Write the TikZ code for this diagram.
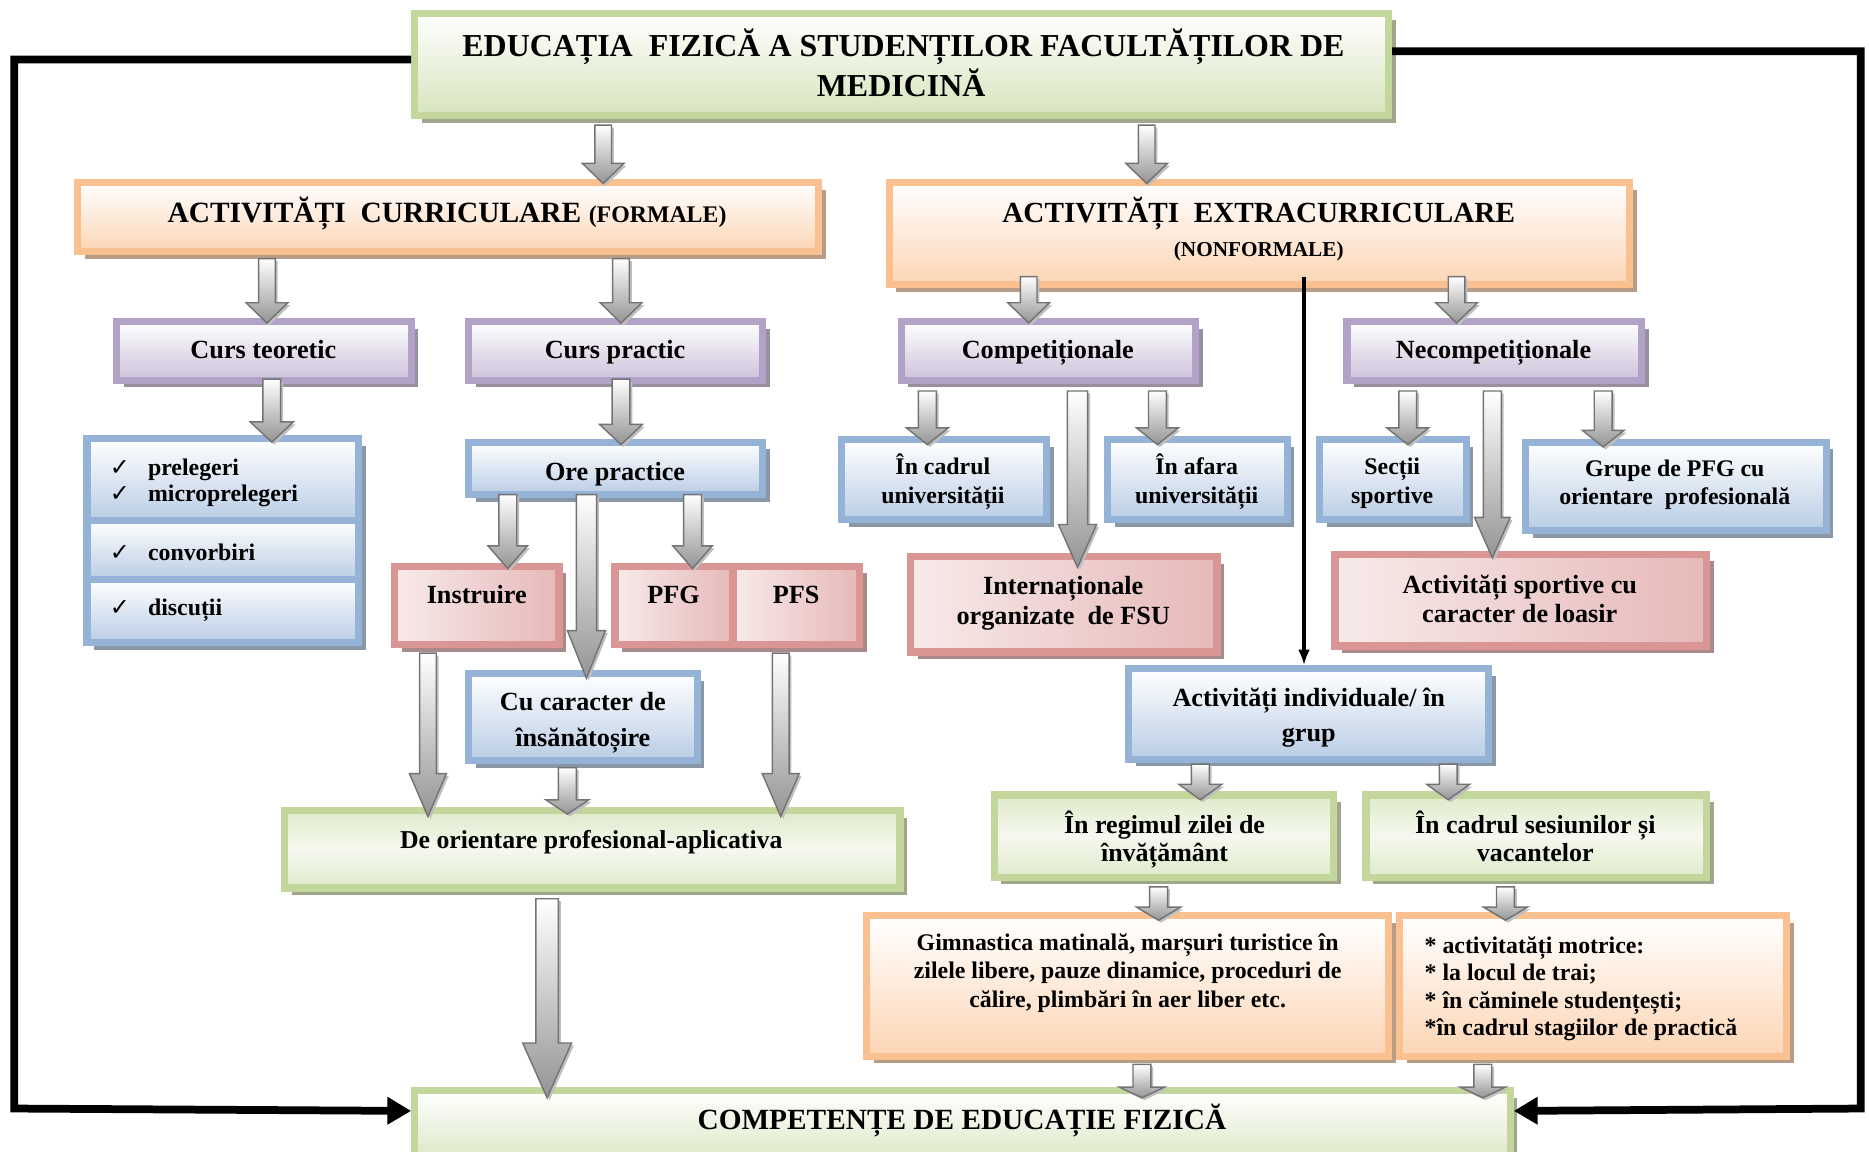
\documentclass[tikz,border=0pt]{standalone}
\usepackage{fontspec}
\setmainfont{Liberation Serif}
\newfontfamily\symf{DejaVu Sans}
\usetikzlibrary{shadows,arrows.meta,calc}
\definecolor{grB}{HTML}{C3D69B}
\definecolor{grF}{HTML}{D7E4BD}
\definecolor{orB}{HTML}{FAC090}
\definecolor{orF}{HTML}{FCD5B5}
\definecolor{puB}{HTML}{B3A2C7}
\definecolor{puF}{HTML}{CCC1DA}
\definecolor{blB}{HTML}{95B3D7}
\definecolor{blF}{HTML}{B9CDE5}
\definecolor{rdB}{HTML}{D99694}
\definecolor{rdF}{HTML}{F2DCDB}
\definecolor{rdD}{HTML}{E6B9B8}
\tikzset{
  boxbase/.style={line width=6pt, inner sep=0pt},
  grbox/.style={boxbase, draw=grB, top color=white, bottom color=grF,
    drop shadow={shadow xshift=6pt, shadow yshift=-6pt, fill=grB!45!gray, opacity=1}},
  grdbox/.style={boxbase, draw=grB, top color=grF!80!white, bottom color=grF!80!white, middle color=grF!25!white,
    drop shadow={shadow xshift=6pt, shadow yshift=-6pt, fill=grB!45!gray, opacity=1}},
  orbox/.style={boxbase, draw=orB, top color=white, bottom color=orF,
    drop shadow={shadow xshift=6pt, shadow yshift=-6pt, fill=orB!45!gray, opacity=1}},
  pubox/.style={boxbase, draw=puB, top color=white, bottom color=puF,
    drop shadow={shadow xshift=6pt, shadow yshift=-6pt, fill=puB!45!gray, opacity=1}},
  blbox/.style={boxbase, draw=blB, top color=white, bottom color=blF,
    drop shadow={shadow xshift=6pt, shadow yshift=-6pt, fill=blB!45!gray, opacity=1}},
  rdbox/.style={boxbase, draw=rdB, left color=rdF!60!white, right color=rdD,
    drop shadow={shadow xshift=6pt, shadow yshift=-6pt, fill=rdB!45!gray, opacity=1}},
  blockarrow/.style={top color=white, bottom color=black!42, draw=black!55, line width=1.2pt,
    drop shadow={shadow xshift=2pt, shadow yshift=-2pt, fill=black!25, opacity=1}},
  bigline/.style={line width=6.5pt, line join=miter, -{Triangle[length=20pt,width=22pt]}},
  thinarr/.style={line width=3pt, -{Latex[length=13pt,width=10pt]}},
  tx/.style={inner sep=0pt},
}
% box: name, x1, y1, x2, y2, style
\newcommand\bx[6]{\node[#6, minimum width={(#4)-(#2)-6}, minimum height={(#5)-(#3)-6}] (#1) at ({((#2)+(#4))/2},{((#3)+(#5))/2}) {};}
% text: [anchor] name, x, baseline y, size, text
\newcommand\tl[6][base]{\node[tx, anchor=#1, font=\fontsize{#5}{#5}\selectfont\bfseries] (#2) at (#3,#4) {#6};}
% block arrow: from, to, x, shaft w, head w, head len, start offset, tip offset
\newcommand\barr[8]{\path[blockarrow] let \p1=(#1.south), \p2=(#2.north) in
  ({(#3-#4/2)*1pt},{\y1-(#7)*1pt}) -- ({(#3+#4/2)*1pt},{\y1-(#7)*1pt})
  -- ({(#3+#4/2)*1pt},{\y2-(#8)*1pt+(#6)*1pt}) -- ({(#3+#5/2)*1pt},{\y2-(#8)*1pt+(#6)*1pt})
  -- ({#3*1pt},{\y2-(#8)*1pt}) -- ({(#3-#5/2)*1pt},{\y2-(#8)*1pt+(#6)*1pt})
  -- ({(#3-#4/2)*1pt},{\y2-(#8)*1pt+(#6)*1pt}) -- cycle;}
\begin{document}
\begin{tikzpicture}[x=1pt,y=-1pt]
\useasboundingbox (0,0) rectangle (1568,966);
% boxes
\bx{title}{345}{8}{1168}{100}{grbox}
\bx{curr}{62}{150}{690}{214}{orbox}
\bx{extra}{743}{150}{1370}{242}{orbox}
\bx{cteor}{95}{267}{348}{322}{pubox}
\bx{cpract}{390}{267}{643}{322}{pubox}
\bx{comp}{753}{267}{1006}{322}{pubox}
\bx{necomp}{1127}{267}{1380}{322}{pubox}
\bx{listA}{70}{365}{304}{440}{blbox}
\bx{listB}{70}{434}{304}{489}{blbox}
\bx{listC}{70}{483}{304}{542}{blbox}
\bx{orep}{390}{368}{643}{418}{blbox}
\bx{instr}{328}{472}{472}{544}{rdbox}
\bx{pfg}{513}{472}{618}{544}{rdbox}
\bx{pfs}{612}{472}{724}{544}{rdbox}
\bx{cucar}{390}{562}{588}{641}{blbox}
\bx{deor}{236}{677}{758}{748}{grdbox}
\bx{compet}{345}{912}{1270}{985}{grbox}
\bx{incadru}{703}{366}{881}{439}{blbox}
\bx{inafara}{926}{366}{1083}{439}{blbox}
\bx{sectii}{1104}{366}{1233}{439}{blbox}
\bx{grupe}{1277}{368}{1535}{448}{blbox}
\bx{intl}{761}{464}{1024}{550}{rdbox}
\bx{loasir}{1117}{462}{1435}{545}{rdbox}
\bx{indiv}{944}{558}{1252}{640}{blbox}
\bx{regim}{831}{664}{1122}{739}{grdbox}
\bx{sesiuni}{1143}{664}{1435}{739}{grdbox}
\bx{gimn}{724}{765}{1168}{889}{orbox}
\bx{motr}{1171}{765}{1502}{889}{orbox}
% block arrows
\barr{title}{curr}{506}{14}{35}{17}{5}{4}
\barr{title}{extra}{962}{14}{35}{17}{5}{4}
\barr{curr}{cteor}{224}{14}{35}{17}{3}{4}
\barr{curr}{cpract}{521}{14}{35}{17}{3}{4}
\barr{extra}{comp}{863}{14}{35}{17}{-10}{4}
\barr{extra}{necomp}{1222}{14}{35}{17}{-10}{4}
\barr{cteor}{listA}{228}{15}{36}{17}{-4}{6}
\barr{cpract}{orep}{521}{15}{36}{17}{-4}{5}
\barr{orep}{instr}{426}{15}{33}{19}{-3}{5}
\barr{orep}{cucar}{492}{17}{32}{40}{-3}{7}
\barr{orep}{pfg}{581}{15}{33}{19}{-3}{5}
\barr{instr}{deor}{359}{14}{31}{36}{4}{8}
\barr{cucar}{deor}{476}{15}{36}{12}{3}{6}
\barr{pfs}{deor}{655}{14}{31}{36}{4}{8}
\barr{deor}{compet}{459}{19}{41}{46}{6}{9}
\barr{comp}{incadru}{778}{15}{35}{14}{6}{7}
\barr{comp}{intl}{904}{17}{32}{36}{6}{12}
\barr{comp}{inafara}{971}{15}{35}{14}{6}{7}
\barr{necomp}{sectii}{1181}{15}{35}{14}{6}{7}
\barr{necomp}{loasir}{1252}{15}{30}{34}{6}{6}
\barr{necomp}{grupe}{1345}{15}{35}{14}{6}{7}
\barr{indiv}{regim}{1007}{15}{36}{13}{1}{7}
\barr{indiv}{sesiuni}{1215}{15}{36}{13}{1}{7}
\barr{regim}{gimn}{972}{15}{37}{11}{5}{7}
\barr{sesiuni}{motr}{1263}{15}{37}{11}{5}{7}
\barr{gimn}{compet}{958}{15}{38}{9}{4}{9}
\barr{motr}{compet}{1244}{15}{38}{9}{4}{9}
% black connectors
\coordinate (L1) at (12,50);
\coordinate (L2) at (12,930);
\coordinate (R1) at (1561,43);
\coordinate (R2) at (1561,930);
\draw[bigline] ([yshift=4pt]title.west) -- (L1) -- (L2) -- ([yshift=16.5pt]compet.west);
\draw[bigline] ([yshift=11pt]title.east) -- (R1) -- (R2) -- ([yshift=16.5pt]compet.east);
\draw[thinarr] let \p1=(extra.south), \p2=(indiv.north) in ({1094pt},{\y1+10pt}) -- ({1094pt},{\y2});
% texts
\tl{t1}{758}{47}{26.8}{EDUCAȚIA~ FIZICĂ A STUDENȚILOR FACULTĂȚILOR DE}
\tl{t2}{756}{81}{26.8}{MEDICINĂ}
\tl{t3}{375}{187}{24.7}{ACTIVITĂȚI~ CURRICULARE {\fontsize{20}{20}\selectfont(FORMALE)}}
\tl{t4}{1056}{187}{24.5}{ACTIVITĂȚI~ EXTRACURRICULARE}
\tl{t5}{1056}{215}{17.8}{(NONFORMALE)}
\tl{t6}{221}{301}{22}{Curs teoretic}
\tl{t7}{516}{301}{22}{Curs practic}
\tl{t8}{879}{301}{22}{Competiționale}
\tl{t9}{1253}{301}{22}{Necompetiționale}
\tl[base west]{c1}{92}{398.5}{20}{\symf\mdseries ✓}
\tl[base west]{c2}{92}{421}{20}{\symf\mdseries ✓}
\tl[base west]{c3}{92}{470}{20}{\symf\mdseries ✓}
\tl[base west]{c4}{92}{516}{20}{\symf\mdseries ✓}
\tl[base west]{l1}{124}{398.5}{20}{prelegeri}
\tl[base west]{l2}{124}{421}{20}{microprelegeri}
\tl[base west]{l3}{124}{470}{20}{convorbiri}
\tl[base west]{l4}{124}{516}{20}{discuții}
\tl{t10}{516}{403}{22}{Ore practice}
\tl{t11}{400}{506}{22}{Instruire}
\tl{t12}{565}{506}{22}{PFG}
\tl{t13}{668}{506}{22}{PFS}
\tl{t14}{489}{596}{22}{Cu caracter de}
\tl{t15}{489}{626}{22}{însănătoșire}
\tl{t16}{496}{711.5}{21.6}{De orientare profesional-aplicativa}
\tl{t17}{807}{948}{24.6}{COMPETENȚE DE EDUCAȚIE FIZICĂ}
\tl{t18}{791}{398}{20}{În cadrul}
\tl{t19}{791}{422}{20}{universității}
\tl{t20}{1004}{398}{20}{În afara}
\tl{t21}{1004}{422}{20}{universității}
\tl{t22}{1168}{398}{20}{Secții}
\tl{t23}{1168}{422}{20}{sportive}
\tl{t24}{1405}{400}{20}{Grupe de PFG cu}
\tl{t25}{1405}{423}{20}{orientare~ profesională}
\tl{t26}{892}{499}{22}{Internaționale}
\tl{t27}{892}{524}{22}{organizate~ de FSU}
\tl{t28}{1275}{497.5}{22}{Activități sportive cu}
\tl{t29}{1275}{522.5}{22}{caracter de loasir}
\tl{t30}{1098}{593}{22}{Activități individuale/ în}
\tl{t31}{1098}{622}{22}{grup}
\tl{t32}{977}{699}{21.8}{În regimul zilei de}
\tl{t33}{977}{723}{21.8}{învățământ}
\tl{t34}{1288}{699}{21.8}{În cadrul sesiunilor și}
\tl{t35}{1288}{723}{21.8}{vacantelor}
\tl{t36}{946}{797}{20}{Gimnastica matinală, marșuri turistice în}
\tl{t37}{946}{820.5}{20}{zilele libere, pauze dinamice, proceduri de}
\tl{t38}{946}{845}{20}{călire, plimbări în aer liber etc.}
\tl[base west]{t39}{1195}{800}{20}{* activitatăți motrice:}
\tl[base west]{t40}{1195}{823}{20}{* la locul de trai;}
\tl[base west]{t41}{1195}{846}{20}{* în căminele studențești;}
\tl[base west]{t42}{1195}{869}{20}{*în cadrul stagiilor de practică}
\end{tikzpicture}
\end{document}
